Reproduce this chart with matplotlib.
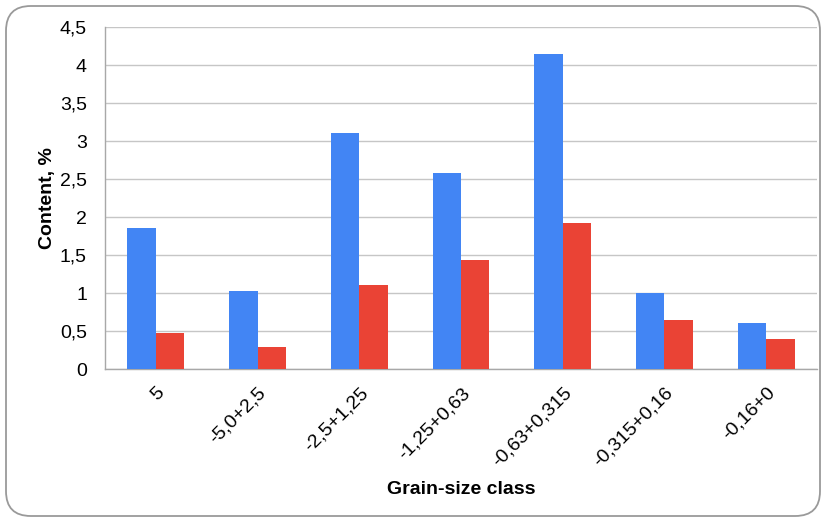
import matplotlib

matplotlib.use("Agg")
import matplotlib.pyplot as plt
import numpy as np
from matplotlib.patches import FancyBboxPatch
from matplotlib.ticker import FuncFormatter, MultipleLocator

classes = ["5", "-5,0+2,5", "-2,5+1,25", "-1,25+0,63", "-0,63+0,315", "-0,315+0,16", "-0,16+0"]
series_a = [1.85, 1.03, 3.10, 2.58, 4.15, 1.00, 0.61]
series_b = [0.48, 0.29, 1.11, 1.43, 1.92, 0.65, 0.40]

BLUE = "#4285F4"
RED = "#EA4335"

plt.rcParams["font.family"] = ["Liberation Sans", "DejaVu Sans"]

fig = plt.figure(figsize=(8.26, 5.22), dpi=100)
ax = fig.add_axes([105 / 826, 1 - 369 / 522, 712 / 826, 342 / 522])

# rounded frame around the whole chart
frame = FancyBboxPatch(
    (6 / 826, 6 / 522), 814 / 826, 510 / 522,
    boxstyle="round,pad=0,rounding_size=0.03",
    transform=fig.transFigure, facecolor="none",
    edgecolor="#9a9a9a", linewidth=1.3, mutation_aspect=826 / 522,
)
fig.patches.append(frame)

x = np.arange(len(classes))
width = 0.28
ax.bar(x - width / 2, series_a, width=width, color=BLUE, zorder=3)
ax.bar(x + width / 2, series_b, width=width, color=RED, zorder=3)

ax.set_xlim(-0.5, len(classes) - 0.5)
ax.set_ylim(0, 4.5)
ax.yaxis.set_major_locator(MultipleLocator(0.5))
ax.yaxis.set_major_formatter(FuncFormatter(lambda v, _: f"{v:g}".replace(".", ",")))
ax.grid(True, axis="y", color="#c6c6c6", linewidth=1.0, zorder=0)

ax.set_xticks(x)
ax.set_xticklabels(classes, rotation=45, ha="right", rotation_mode="anchor")
ax.tick_params(axis="x", length=0, pad=11, labelsize=14)
ax.tick_params(axis="y", length=0, pad=13, labelsize=14)

for side in ("top", "right"):
    ax.spines[side].set_visible(False)
for side in ("left", "bottom"):
    ax.spines[side].set_color("#a8a8a8")
    ax.spines[side].set_linewidth(1.0)

ax.set_ylabel("Content, %", fontsize=14, fontweight="bold", labelpad=3)
fig.text(461 / 826, 1 - 490 / 522, "Grain-size class", fontsize=14,
         fontweight="bold", ha="center", va="center")

fig.savefig("out.png", dpi=100)
